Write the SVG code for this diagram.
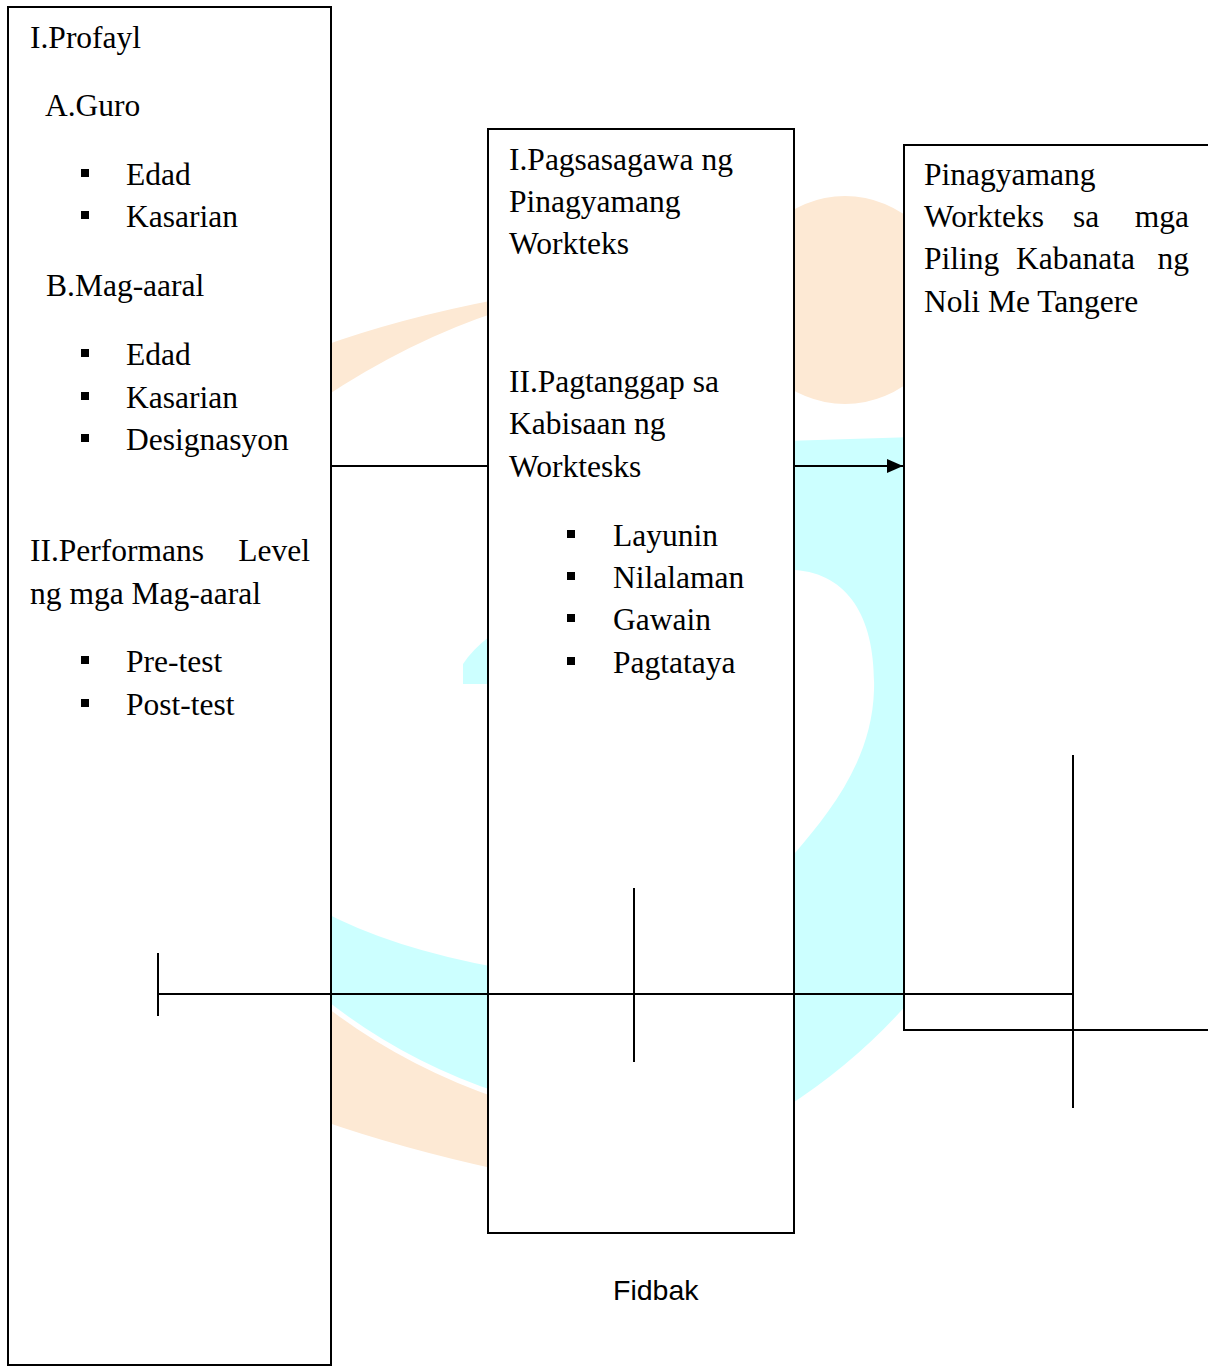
<svg xmlns="http://www.w3.org/2000/svg" width="1208" height="1371" viewBox="0 0 1208 1371">
  <style>
    .box { fill: #ffffff; stroke: #000000; stroke-width: 2; }
    .t { font-family: "Liberation Serif", "Times New Roman", serif; font-size: 31.5px; fill: #000000; }
    .ln { stroke: #000000; stroke-width: 2; fill: none; }
    .bul { fill: #000000; }
    .lbl { font-family: "Liberation Sans", Arial, sans-serif; font-size: 28.5px; fill: #000000; }
    .wo { fill: #FDE9D4; }
    .wc { fill: #CCFFFF; }
  </style>
  <defs>
    <marker id="arr" viewBox="0 0 16 14" refX="16" refY="7" markerWidth="16" markerHeight="14" markerUnits="userSpaceOnUse" orient="auto">
      <path d="M0,0 L16,7 L0,14 Z" fill="#000000"/>
    </marker>
  </defs>
  <rect x="0" y="0" width="1208" height="1371" fill="#ffffff"/>

  <g id="watermark">
    <!-- left gap: orange tail -->
    <path class="wo" d="M320,347 Q400,318 500,299 L500,311 Q410,340 320,400 Z"/>
    <!-- left gap: cyan tip -->
    <path class="wc" d="M500,630 L490,636 Q472,650 463,664 L463,684 L500,684 Z"/>
    <!-- left gap: cyan band -->
    <path class="wc" d="M320,910 Q390,948 500,968 L500,1093 Q400,1060 320,995 Z"/>
    <!-- left gap: orange band -->
    <path class="wo" d="M320,1002 Q400,1065 500,1099 L500,1170 Q400,1148 320,1120 Z"/>
    <!-- right gap: orange circle -->
    <circle class="wo" cx="845" cy="300" r="104"/>
    <!-- right gap: cyan crescent -->
    <path class="wc" d="M785,441 L915,437 L915,995 Q860,1060 785,1108 L785,856 L795,853 C830,812 872,760 874,690 C876,620 850,574 795,570 L785,570 Z"/>
  </g>

  <g id="node-input">
    <rect class="box" x="8" y="7" width="323" height="1358"/>
    <text class="t" x="30" y="48">I.Profayl</text>
    <text class="t" x="45" y="116">A.Guro</text>
    <rect class="bul" x="81" y="169" width="8" height="8"/>
    <text class="t" x="126" y="185">Edad</text>
    <rect class="bul" x="81" y="211" width="8" height="8"/>
    <text class="t" x="126" y="227">Kasarian</text>
    <text class="t" x="46" y="296">B.Mag-aaral</text>
    <rect class="bul" x="81" y="349" width="8" height="8"/>
    <text class="t" x="126" y="365">Edad</text>
    <rect class="bul" x="81" y="392" width="8" height="8"/>
    <text class="t" x="126" y="408">Kasarian</text>
    <rect class="bul" x="81" y="434" width="8" height="8"/>
    <text class="t" x="126" y="450">Designasyon</text>
    <text class="t" x="30" y="561">II.Performans</text>
    <text class="t" x="310" y="561" text-anchor="end">Level</text>
    <text class="t" x="30" y="604">ng mga Mag-aaral</text>
    <rect class="bul" x="81" y="656" width="8" height="8"/>
    <text class="t" x="126" y="672">Pre-test</text>
    <rect class="bul" x="81" y="699" width="8" height="8"/>
    <text class="t" x="126" y="715">Post-test</text>
  </g>

  <g id="node-process">
    <rect class="box" x="488" y="129" width="306" height="1104"/>
    <text class="t" x="509" y="170">I.Pagsasagawa ng</text>
    <text class="t" x="509" y="212">Pinagyamang</text>
    <text class="t" x="509" y="254">Workteks</text>
    <text class="t" x="509" y="392">II.Pagtanggap sa</text>
    <text class="t" x="509" y="434">Kabisaan ng</text>
    <text class="t" x="509" y="477">Worktesks</text>
    <rect class="bul" x="567" y="530" width="8" height="8"/>
    <text class="t" x="613" y="546">Layunin</text>
    <rect class="bul" x="567" y="572" width="8" height="8"/>
    <text class="t" x="613" y="588">Nilalaman</text>
    <rect class="bul" x="567" y="614" width="8" height="8"/>
    <text class="t" x="613" y="630">Gawain</text>
    <rect class="bul" x="567" y="657" width="8" height="8"/>
    <text class="t" x="613" y="673">Pagtataya</text>
  </g>

  <g id="node-output">
    <rect class="box" x="904" y="145" width="320" height="885"/>
    <text class="t" x="924" y="185">Pinagyamang</text>
    <text class="t" x="924" y="227">Workteks</text>
    <text class="t" x="1073" y="227">sa</text>
    <text class="t" x="1189" y="227" text-anchor="end">mga</text>
    <text class="t" x="924" y="269">Piling</text>
    <text class="t" x="1016" y="269">Kabanata</text>
    <text class="t" x="1189" y="269" text-anchor="end">ng</text>
    <text class="t" x="924" y="312">Noli Me Tangere</text>
  </g>

  <g id="connectors">
    <line class="ln" x1="331" y1="466" x2="488" y2="466"/>
    <line class="ln" x1="794" y1="466" x2="903" y2="466" marker-end="url(#arr)"/>
    <line class="ln" x1="158" y1="994" x2="1073" y2="994"/>
    <line class="ln" x1="158" y1="953" x2="158" y2="1016"/>
    <line class="ln" x1="634" y1="888" x2="634" y2="1062"/>
    <line class="ln" x1="1073" y1="755" x2="1073" y2="1108"/>
    <text class="lbl" x="613" y="1300">Fidbak</text>
  </g>
</svg>
